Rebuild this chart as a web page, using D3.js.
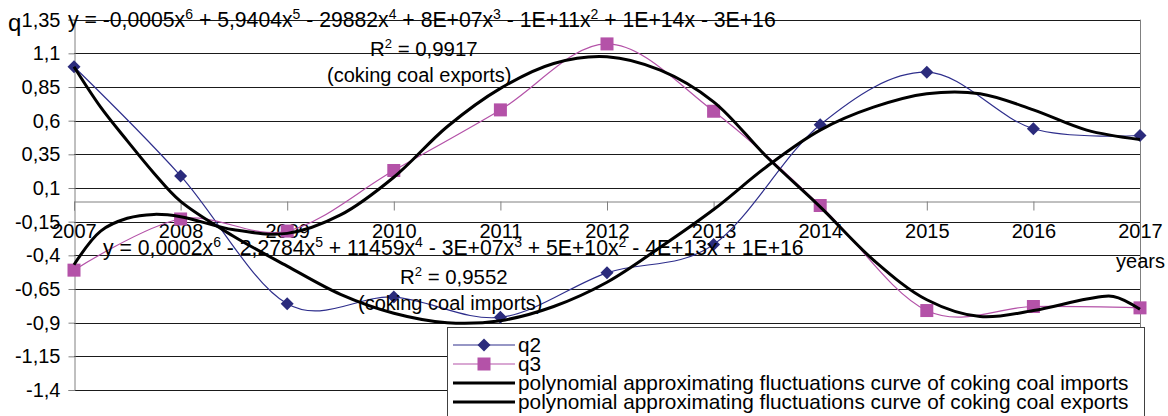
<!DOCTYPE html>
<html>
<head>
<meta charset="utf-8">
<script src="https://cdn.jsdelivr.net/npm/d3@7"></script>
<style>
	body { margin: 0; background: #fff; }
	svg { display: block; }
	text { font-family: "Liberation Sans", Arial, sans-serif; fill: #000; }
</style>
</head>
<body>
<svg id="chart"></svg>
<script>
// data
const years = [2007, 2008, 2009, 2010, 2011, 2012, 2013, 2014, 2015, 2016, 2017];
const q2 = [1.0, 0.19, -0.76, -0.71, -0.86, -0.53, -0.32, 0.57, 0.96, 0.54, 0.49];
const q3 = [-0.51, -0.13, -0.22, 0.23, 0.68, 1.17, 0.67, -0.03, -0.81, -0.78, -0.79];

// polynomial trendlines as drawn
const importsTrendX = [2007, 2007.25, 2007.5, 2007.75, 2008, 2008.5, 2009, 2009.5, 2010, 2010.5, 2011, 2011.5, 2012, 2012.5, 2013, 2013.5, 2014, 2014.5, 2015, 2015.5, 2016, 2016.5, 2017];
const importsTrend = [1.0, 0.70, 0.45, 0.21, 0.0, -0.26, -0.48, -0.69, -0.83, -0.90, -0.885, -0.78, -0.60, -0.34, -0.06, 0.26, 0.53, 0.70, 0.80, 0.80, 0.68, 0.53, 0.46];
const exportsTrendX = [2007, 2007.25, 2007.5, 2007.75, 2008, 2008.5, 2009, 2009.5, 2010, 2010.5, 2011, 2011.5, 2012, 2012.5, 2013, 2013.5, 2014, 2014.5, 2015, 2015.5, 2016, 2016.5, 2016.75, 2017];
const exportsTrend = [-0.47, -0.22, -0.125, -0.096, -0.113, -0.21, -0.237, -0.10, 0.18, 0.555, 0.84, 1.025, 1.075, 0.975, 0.74, 0.33, -0.04, -0.435, -0.73, -0.855, -0.81, -0.725, -0.705, -0.80];

const yTicks = [1.35, 1.1, 0.85, 0.6, 0.35, 0.1, -0.15, -0.4, -0.65, -0.9, -1.15, -1.4];

const legendLabels = ['q2', 'q3',
	'polynomial approximating fluctuations curve of coking coal imports',
	'polynomial approximating fluctuations curve of coking coal exports'];

// equation labels, "^" marks a superscript digit
const exportsEq = 'y = -0,0005x^6 + 5,9404x^5 - 29882x^4 + 8E+07x^3 - 1E+11x^2 + 1E+14x - 3E+16';
const importsEq = 'y = 0,0002x^6 - 2,2784x^5 + 11459x^4 - 3E+07x^3 + 5E+10x^2 - 4E+13x + 1E+16';

let w = 1168;
let h = 416;

let chart = d3.select('#chart')
	.attr('width', w)
	.attr('height', h);

let x = d3.scaleLinear().domain([2007, 2017]).range([74, 1140]);
let y = d3.scaleLinear().domain([-1.4, 1.35]).range([390, 19.67]);

const comma = d => String(d).replace('.', ',');

// gridlines
chart.append('g')
	.selectAll('line')
	.data(yTicks)
	.enter()
	.append('line')
	.attr('x1', x(2007))
	.attr('x2', x(2017))
	.attr('y1', d => Math.round(y(d)) + 0.5)
	.attr('y2', d => Math.round(y(d)) + 0.5)
	.attr('stroke', '#1a1a1a')
	.attr('stroke-width', 1);

// right border
chart.append('line')
	.attr('x1', x(2017) + 0.5).attr('x2', x(2017) + 0.5)
	.attr('y1', y(1.35)).attr('y2', y(-1.4))
	.attr('stroke', '#808080');

// y axis
let yAxis = chart.append('g')
	.attr('transform', `translate(${x(2007) + 0.5},0)`)
	.call(d3.axisLeft(y).tickValues(yTicks).tickFormat(comma).tickSize(6).tickPadding(8));
yAxis.select('.domain').attr('stroke', '#808080');
yAxis.selectAll('.tick line').attr('stroke', '#808080');
yAxis.selectAll('text')
	.style('font-size', '20px')
	.attr('font-family', null);

// x axis at zero
let xAxis = chart.append('g')
	.attr('transform', `translate(0,${Math.round(y(0)) + 0.5})`)
	.call(d3.axisBottom(x).tickValues(years).tickFormat(d3.format('d')).tickSize(9).tickPadding(13));
xAxis.select('.domain').attr('stroke', '#808080');
xAxis.selectAll('.tick line').attr('stroke', '#808080');
xAxis.selectAll('text')
	.style('font-size', '20px')
	.attr('font-family', null);

// series lines
const smooth = d3.line()
	.x((d, i) => x(years[i]))
	.y(d => y(d))
	.curve(d3.curveCardinal.tension(0));

chart.append('path')
	.attr('d', smooth(q2))
	.attr('fill', 'none')
	.attr('stroke', '#2e2e8c')
	.attr('stroke-width', 1.2);

chart.append('path')
	.attr('d', smooth(q3))
	.attr('fill', 'none')
	.attr('stroke', '#b452a8')
	.attr('stroke-width', 1.2);

const diamond = 'M0,-6.5L6.5,0L0,6.5L-6.5,0Z';

chart.selectAll('.q2')
	.data(q2)
	.enter()
	.append('path')
	.attr('class', 'q2')
	.attr('d', diamond)
	.attr('transform', (d, i) => `translate(${x(years[i])},${y(d)})`)
	.attr('fill', '#2b2b7c');

chart.selectAll('.q3')
	.data(q3)
	.enter()
	.append('rect')
	.attr('class', 'q3')
	.attr('x', (d, i) => x(years[i]) - 6.5)
	.attr('y', d => y(d) - 6.5)
	.attr('width', 13)
	.attr('height', 13)
	.attr('fill', '#b452a8');

// trendlines
const trend = xs => d3.line()
	.x((d, i) => x(xs[i]))
	.y(d => y(d))
	.curve(d3.curveCatmullRom);

chart.append('path')
	.attr('d', trend(importsTrendX)(importsTrend))
	.attr('fill', 'none')
	.attr('stroke', '#000')
	.attr('stroke-width', 3);

chart.append('path')
	.attr('d', trend(exportsTrendX)(exportsTrend))
	.attr('fill', 'none')
	.attr('stroke', '#000')
	.attr('stroke-width', 3);

// text with superscripts: each piece gets its own absolute y
function supText(g, str, tx, ty, size) {
	let t = g.append('text')
		.attr('x', tx)
		.attr('y', ty)
		.style('font-size', size + 'px');
	let parts = str.split(/\^(\d)/);
	parts.forEach((p, i) => {
		if (!p) return;
		if (i % 2 == 0) {
			t.append('tspan').attr('y', ty).text(p);
		} else {
			t.append('tspan')
				.attr('y', ty - 8)
				.style('font-size', Math.round(size * 0.66) + 'px')
				.text(p);
		}
	});
	return t;
}

supText(chart, exportsEq, 68, 27, 21.2);
supText(chart, 'R^2 = 0,9917', 370, 56, 20.4);
chart.append('text').attr('x', 327).attr('y', 82).style('font-size', '20px').text('(coking coal exports)');

supText(chart, importsEq, 103, 255, 21.2);
supText(chart, 'R^2 = 0,9552', 400, 284, 20.4);
chart.append('text').attr('x', 358).attr('y', 310).style('font-size', '20px').text('(coking coal imports)');

chart.append('text').attr('x', 8).attr('y', 31).style('font-size', '24px').text('q');
chart.append('text').attr('x', 1165).attr('y', 268).attr('text-anchor', 'end').style('font-size', '20px').text('years');

// legend
let legend = chart.append('g');
legend.append('rect')
	.attr('x', 447.5)
	.attr('y', 327.5)
	.attr('width', 697)
	.attr('height', 100)
	.attr('fill', '#fff')
	.attr('stroke', '#404040');

const legendColors = ['#2e2e8c', '#b452a8', '#000', '#000'];
const legendWidths = [1.2, 1.2, 3, 3];
let rows = legend.selectAll('.row')
	.data(legendLabels)
	.enter()
	.append('g')
	.attr('transform', (d, i) => `translate(0,${345 + i * 19})`);

rows.append('line')
	.attr('x1', 453).attr('x2', 515)
	.attr('stroke', (d, i) => legendColors[i])
	.attr('stroke-width', (d, i) => legendWidths[i]);

rows.append('text')
	.attr('x', 518)
	.attr('dy', '0.35em')
	.style('font-size', '20.8px')
	.text(d => d);

legend.append('path')
	.attr('d', diamond)
	.attr('transform', 'translate(484,345)')
	.attr('fill', '#2b2b7c');
legend.append('rect')
	.attr('x', 477.5).attr('y', 357.5)
	.attr('width', 13).attr('height', 13)
	.attr('fill', '#b452a8');
</script>
</body>
</html>
